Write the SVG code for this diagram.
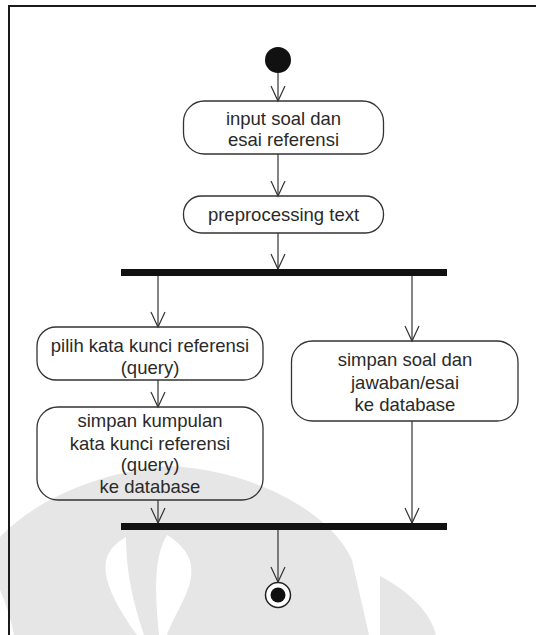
<svg xmlns="http://www.w3.org/2000/svg" width="536" height="635" viewBox="0 0 536 635">
<style>
.box{fill:none;stroke:#333;stroke-width:1.3}
.t{font-family:"Liberation Sans",Arial,sans-serif;font-size:18.5px;fill:#2a2a2a;text-anchor:middle}
.ln{stroke:#333;stroke-width:1.2;fill:none;marker-end:url(#ah)}
.bar{fill:#111}
.wm{fill:#e6e6e6}
.wh{fill:#fff}
</style>
<defs>
<marker id="ah" markerUnits="userSpaceOnUse" markerWidth="20" markerHeight="20" viewBox="0 0 20 20" refX="16" refY="8" orient="auto">
<path d="M1,1 L16,8 L1,15" fill="none" stroke="#333" stroke-width="1.2"/>
</marker>
</defs>
<rect width="536" height="635" fill="#fff"/>
<g id="watermark">
<path class="wm" d="M0,537 C40,495 110,470 170,466 C250,470 330,510 352,560 L369,635 L14,635 Q9,610 0,590 Z"/>
<path class="wh" d="M126,537 C100,552 94,575 137,635 L144,635 C132,600 126,570 126,537 Z"/>
<path class="wh" d="M167,535 C152,560 156,600 159,635 L167,635 C180,600 215,565 167,535 Z"/>
<path class="wm" d="M380,576 C410,592 430,612 436,635 L380,635 Z"/>
</g>
<path id="frame" d="M9,635 V6 H536" fill="none" stroke="#1a1a1a" stroke-width="2"/>
<g id="connectors">
<line class="ln" x1="278" y1="73" x2="278" y2="101"/>
<line class="ln" x1="278" y1="154" x2="278" y2="196"/>
<line class="ln" x1="278" y1="233" x2="278" y2="269"/>
<line class="ln" x1="158" y1="276" x2="158" y2="327"/>
<line class="ln" x1="412" y1="276" x2="412" y2="341"/>
<line class="ln" x1="158" y1="380" x2="158" y2="407"/>
<line class="ln" x1="158" y1="500" x2="158" y2="523"/>
<line class="ln" x1="412" y1="421" x2="412" y2="523"/>
<line class="ln" x1="278" y1="530" x2="278" y2="582"/>
</g>
<g id="start"><circle cx="278" cy="60" r="13" fill="#111"/></g>
<g id="n1"><rect class="box" x="183.5" y="101" width="200" height="53" rx="21"/>
<text class="t" x="283.5" y="124.5">input soal dan</text><text class="t" x="283.5" y="146">esai referensi</text></g>
<g id="n2"><rect class="box" x="183.5" y="196" width="200" height="37" rx="18"/>
<text class="t" x="283.5" y="221">preprocessing text</text></g>
<g id="fork"><rect class="bar" x="121" y="269" width="326" height="7"/></g>
<g id="n3"><rect class="box" x="37" y="327" width="226" height="53" rx="19"/>
<text class="t" x="150" y="352">pilih kata kunci referensi</text><text class="t" x="150" y="374">(query)</text></g>
<g id="n4"><rect class="box" x="291.5" y="341" width="226.5" height="80" rx="21"/>
<text class="t" x="405" y="366">simpan soal dan</text><text class="t" x="405" y="388.5">jawaban/esai</text><text class="t" x="405" y="410.5">ke database</text></g>
<g id="n5"><rect class="box" x="37" y="407" width="226" height="93" rx="21"/>
<text class="t" x="150" y="427">simpan kumpulan</text><text class="t" x="150" y="449.5">kata kunci referensi</text><text class="t" x="150" y="471">(query)</text><text class="t" x="150" y="492.5">ke database</text></g>
<g id="join"><rect class="bar" x="121" y="523" width="326" height="7"/></g>
<g id="end"><circle cx="278" cy="595" r="12.5" fill="#fff" stroke="#222" stroke-width="1.5"/><circle cx="278" cy="595" r="7.5" fill="#111"/></g>
</svg>
